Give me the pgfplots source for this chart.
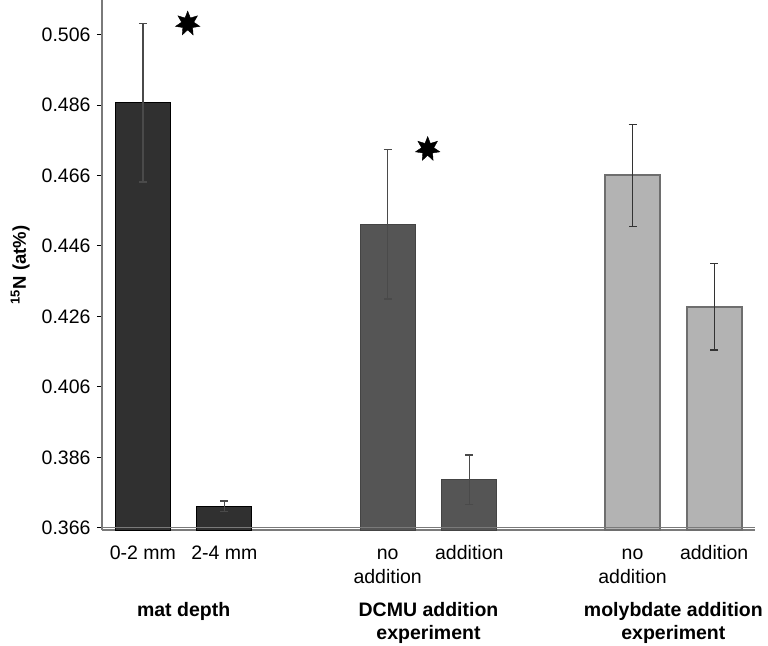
\documentclass[border=0pt]{standalone}
\usepackage{pgfplots}
\pgfplotsset{compat=1.18}
\usepackage{fontspec}
\setmainfont{Liberation Sans}
\definecolor{barA}{HTML}{303030}
\definecolor{barB}{HTML}{555555}
\definecolor{barC}{HTML}{B3B3B3}
\definecolor{edgeC}{HTML}{6E6E6E}
\definecolor{axgray}{HTML}{7A7A7A}
\definecolor{errc}{HTML}{4A4A4A}
\pgfdeclareplotmark{sevenstar}{%
  \pgfpathmoveto{\pgfpointpolar{90}{\pgfplotmarksize}}%
  \pgfpathlineto{\pgfpointpolar{115.71}{0.5\pgfplotmarksize}}%
  \pgfpathlineto{\pgfpointpolar{141.43}{\pgfplotmarksize}}%
  \pgfpathlineto{\pgfpointpolar{167.14}{0.5\pgfplotmarksize}}%
  \pgfpathlineto{\pgfpointpolar{192.86}{\pgfplotmarksize}}%
  \pgfpathlineto{\pgfpointpolar{218.57}{0.5\pgfplotmarksize}}%
  \pgfpathlineto{\pgfpointpolar{244.29}{\pgfplotmarksize}}%
  \pgfpathlineto{\pgfpointpolar{270}{0.5\pgfplotmarksize}}%
  \pgfpathlineto{\pgfpointpolar{295.71}{\pgfplotmarksize}}%
  \pgfpathlineto{\pgfpointpolar{321.43}{0.5\pgfplotmarksize}}%
  \pgfpathlineto{\pgfpointpolar{347.14}{\pgfplotmarksize}}%
  \pgfpathlineto{\pgfpointpolar{12.86}{0.5\pgfplotmarksize}}%
  \pgfpathlineto{\pgfpointpolar{38.57}{\pgfplotmarksize}}%
  \pgfpathlineto{\pgfpointpolar{64.29}{0.5\pgfplotmarksize}}%
  \pgfpathclose
  \pgfusepathqfillstroke
}
\begin{document}
\fontsize{19}{24}\selectfont
\begin{tikzpicture}
\begin{axis}[
  scale only axis, width=653pt, height=530pt,
  xmin=-0.5, xmax=7.5, ymin=0.3654, ymax=0.5158,
  axis x line*=bottom, axis y line*=left,
  axis line style={draw=axgray, line width=1.6pt},
  tick align=outside,
  bar width=55pt,
  xtick={0,1,3,4,6,7},
  xticklabels={{\strut 0-2 mm}, {\strut 2-4 mm}, {\strut no\\addition}, {\strut addition}, {\strut no\\addition}, {\strut addition}},
  xticklabel style={align=center, font=\fontsize{19.5}{24}\selectfont, yshift=-1pt},
  major x tick style={draw=none},
  extra x ticks={2,5},
  extra x tick labels={},
  extra x tick style={major tick length=5pt, tick style={draw=black, line width=1pt}},
  ytick={0.366,0.386,0.406,0.426,0.446,0.466,0.486,0.506},
  yticklabels={0.366,0.386,0.406,0.426,0.446,0.466,0.486,0.506},
  yticklabel style={font=\fontsize{19.5}{24}\selectfont},
  major y tick style={draw=black, line width=1pt},
  major tick length=5pt,
  ylabel={\textbf{\textsuperscript{15}N (at\%)}},
  ylabel style={font=\fontsize{18.5}{22}\selectfont, yshift=-1pt},
  clip=false,
]
\addplot[ybar, bar shift=0pt, fill=barA, draw=black, line width=1pt,
  error bars/.cd, y dir=both, y explicit,
  error bar style={draw=errc, line width=1.6pt},
  error mark options={rotate=90, mark size=4pt, draw=errc, line width=1.6pt}]
  coordinates {(0,0.4866) +- (0,0.0225) (1,0.3722) +- (0,0.0015)};
\addplot[ybar, bar shift=0pt, fill=barB, draw=barB!80!black, line width=1pt,
  error bars/.cd, y dir=both, y explicit,
  error bar style={draw=errc, line width=1.6pt},
  error mark options={rotate=90, mark size=4pt, draw=errc, line width=1.6pt}]
  coordinates {(3,0.4522) +- (0,0.0212) (4,0.3796) +- (0,0.0070)};
\addplot[ybar, bar shift=0pt, fill=barC, draw=edgeC, line width=2pt,
  error bars/.cd, y dir=both, y explicit,
  error bar style={draw=black!80, line width=1.3pt},
  error mark options={rotate=90, mark size=4pt, draw=black!80, line width=1.3pt}]
  coordinates {(6,0.4660) +- (0,0.0145) (7,0.4288) +- (0,0.0123)};
\addplot[sharp plot, no markers, draw=axgray, line width=1.2pt, forget plot]
  coordinates {(-0.5,0.366) (7.5,0.366)};
\addplot[only marks, mark=sevenstar, mark size=12.5pt, draw=black, fill=black]
  coordinates {(0.55,0.5091) (3.49,0.4735)};
\node[font=\bfseries\fontsize{19.5}{23}\selectfont, align=center, anchor=north, yshift=-66pt] at (axis cs:0.5,0.3654) {mat depth};
\node[font=\bfseries\fontsize{19.5}{23}\selectfont, align=center, anchor=north, yshift=-66pt] at (axis cs:3.5,0.3654) {DCMU addition\\experiment};
\node[font=\bfseries\fontsize{19.5}{23}\selectfont, align=center, anchor=north, yshift=-66pt] at (axis cs:6.5,0.3654) {molybdate addition\\experiment};
\coordinate (o) at (rel axis cs:0,0);
\end{axis}
\pgfresetboundingbox
\path[use as bounding box] ([shift={(-102pt,-115pt)}]o) rectangle ([shift={(666pt,530pt)}]o);
\end{tikzpicture}
\end{document}
